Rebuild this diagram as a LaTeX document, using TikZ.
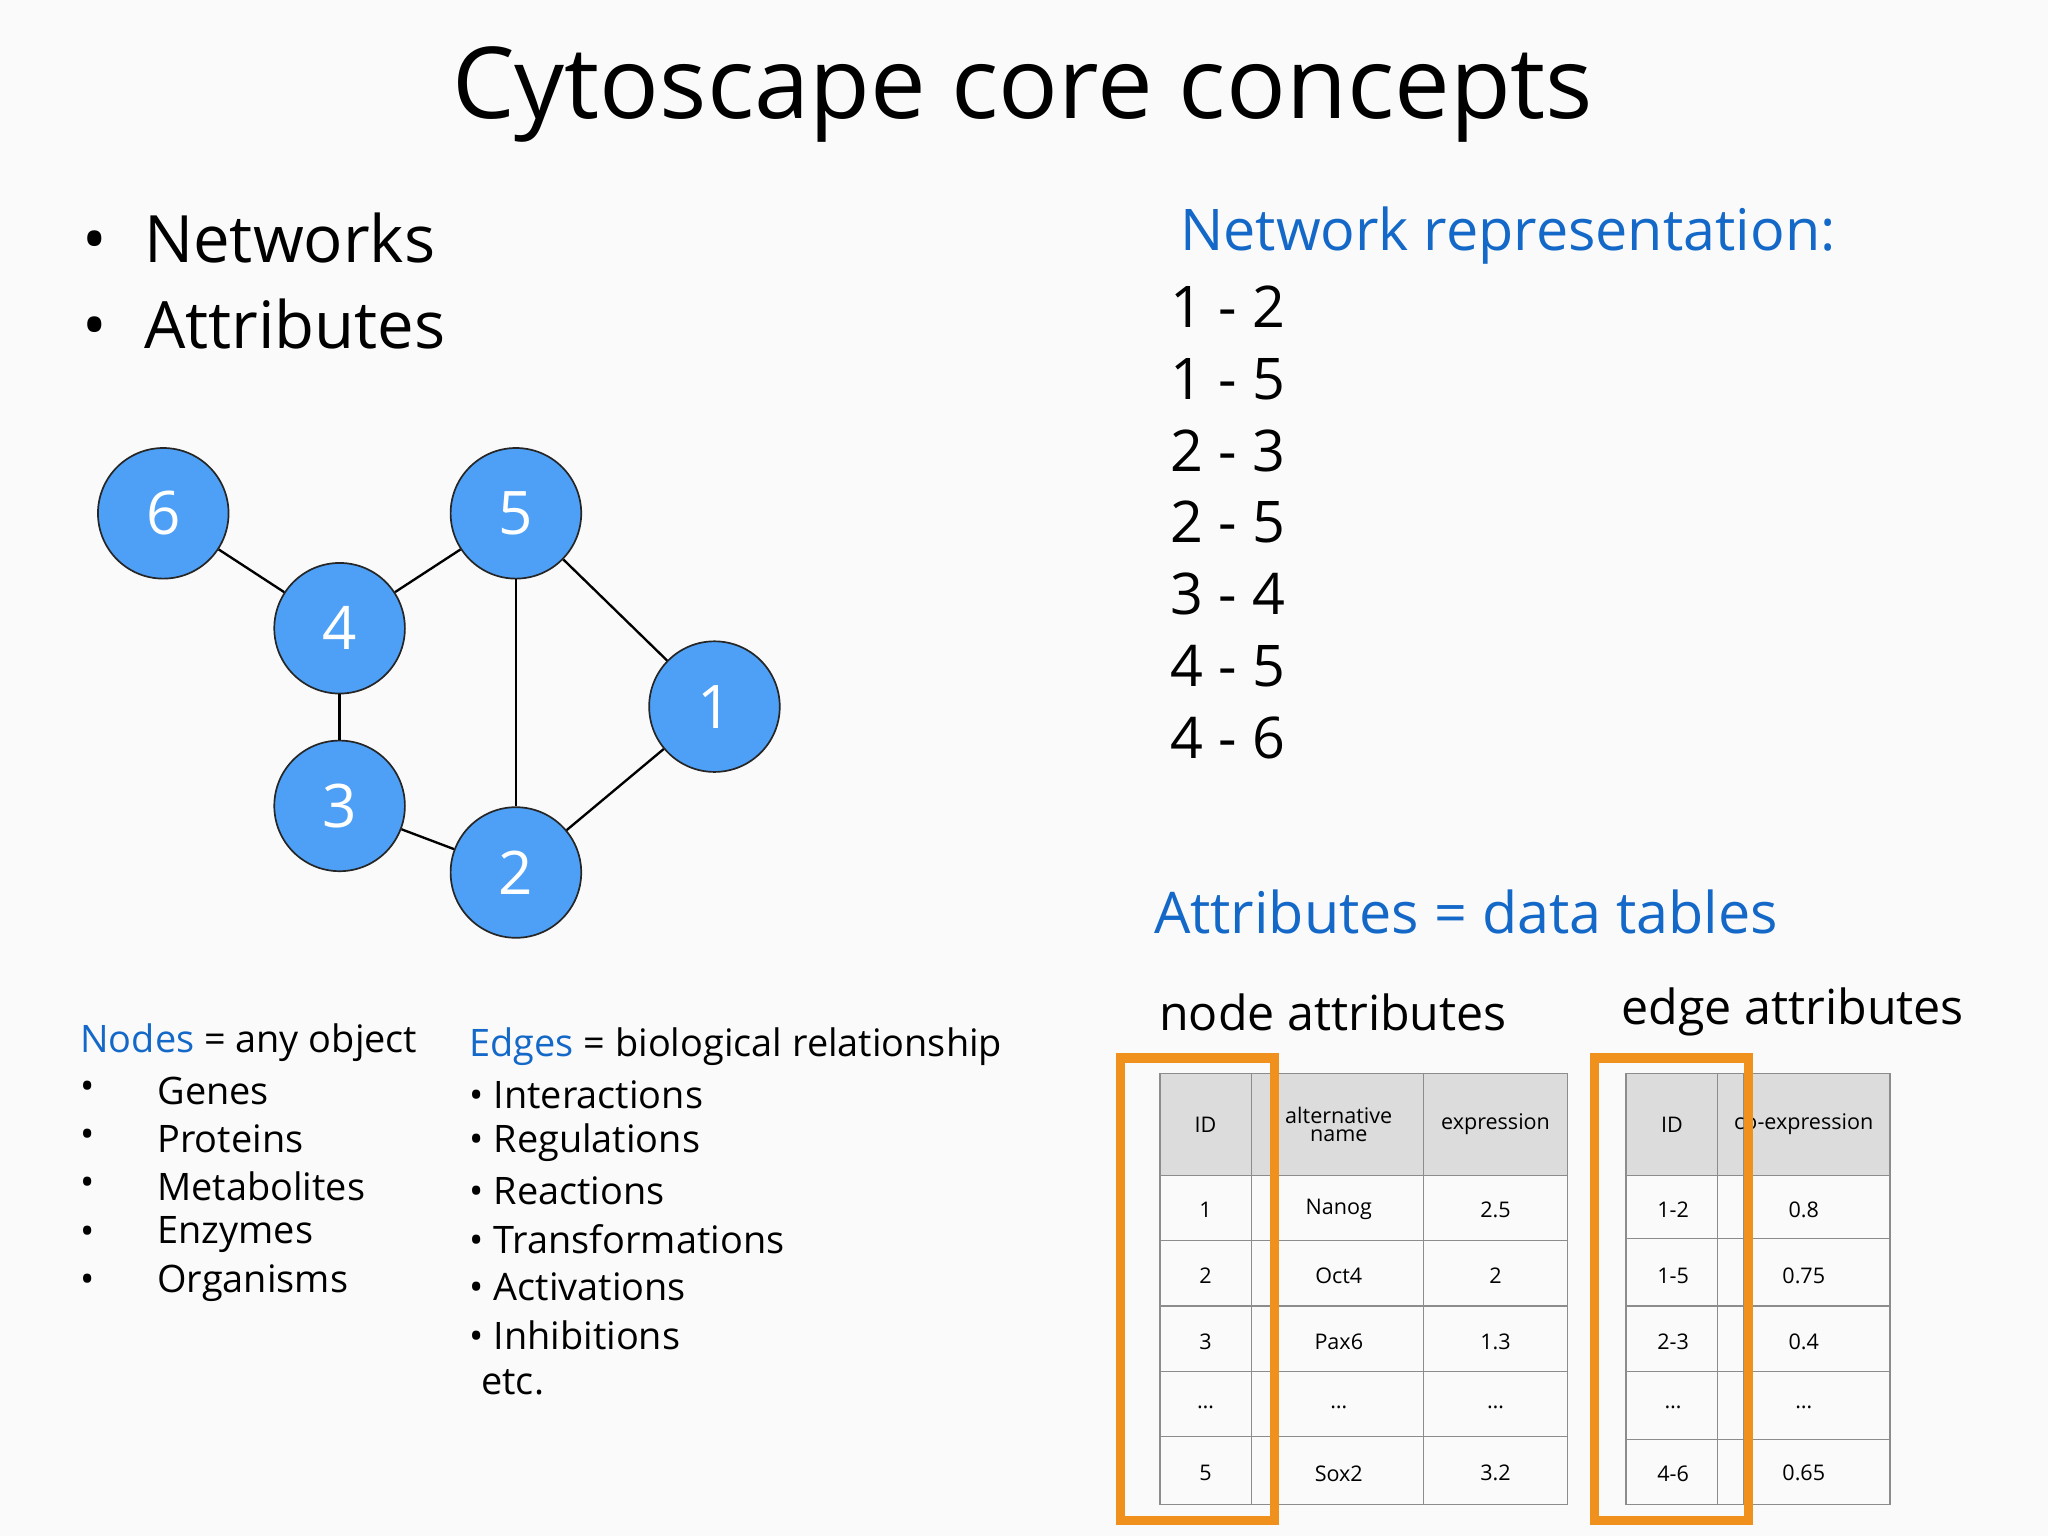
\documentclass[tikz,border=0pt]{standalone}
\usepackage{fontspec}
\setmainfont{Open Sans}
\definecolor{nblue}{RGB}{77,160,245}
\definecolor{tblue}{RGB}{20,105,200}
\definecolor{org}{RGB}{240,145,30}
\definecolor{hdr}{RGB}{220,220,220}
\begin{document}
\begin{tikzpicture}[x=1pt,y=-1pt,
 gnode/.style={circle,draw=black!85,line width=1.3pt,fill=nblue,minimum size=100pt,inner sep=0pt,text=white,font=\fontsize{46}{46}\selectfont},
 edge/.style={line width=1.8pt},
 big/.style={anchor=west,font=\fontsize{44}{44}\selectfont},
 mid/.style={anchor=west,font=\fontsize{29}{29}\selectfont},
 cell/.style={font=\fontsize{16.5}{17}\selectfont,align=center},
 grid/.style={draw=black!45,line width=1pt},
 obox/.style={draw=org,line width=7pt}]
\useasboundingbox (0,0) rectangle (1568,1176);
\fill[white!98!black] (0,0) rectangle (1568,1176);
\node (title) at (783,72) {\fontsize{76}{76}\selectfont Cytoscape core concepts};
\node[big,font=\fontsize{50}{50}\selectfont] (b1) at (60,182) {•\hspace{28pt}Networks};
\node[big,font=\fontsize{50}{50}\selectfont] (b2) at (60,248) {•\hspace{28pt}Attributes};
% graph
\node[gnode] (n6) at (125,393) {6};
\node[gnode] (n5) at (395,393) {5};
\node[gnode] (n4) at (260,481) {4};
\node[gnode] (n1) at (547,541) {1};
\node[gnode] (n3) at (260,617) {3};
\node[gnode] (n2) at (395,668) {2};
\begin{scope}[on background layer/.style={}]
\end{scope}
\draw[edge] (n6)--(n4); \draw[edge] (n4)--(n5); \draw[edge] (n4)--(n3);
\draw[edge] (n5)--(n2); \draw[edge] (n5)--(n1); \draw[edge] (n3)--(n2); \draw[edge] (n2)--(n1);
% network representation
\node[big,text=tblue] (nr) at (900,180) {Network representation:};
\foreach \t [count=\i from 0] in {1 - 2,1 - 5,2 - 3,2 - 5,3 - 4,4 - 5,4 - 6}
  \node[big] (l\i) at (893,235+55*\i) {\t};
\node[big,text=tblue] (adt) at (880,698) {Attributes = data tables};
\node[mid,font=\fontsize{37}{37}\selectfont] (na) at (884,775) {node attributes};
\node[mid,font=\fontsize{37}{37}\selectfont] (ea) at (1238,775) {edge attributes};
% nodes/edges lists
\node[mid] (nh) at (58,798) {\textcolor{tblue}{Nodes} = any object};
\foreach \t [count=\i from 0] in {Genes,Proteins,Metabolites,Enzymes,Organisms}{
  \node[mid] (nb\i) at (58,835+36.8*\i) {•};
  \node[mid] (nt\i) at (117,835+36.8*\i) {\t};}
\node[mid] (eh) at (356,801) {\textcolor{tblue}{Edges} = biological relationship};
\foreach \t [count=\i from 0] in {Interactions,Regulations,Reactions,Transformations,Activations,Inhibitions}
  \node[mid] (et\i) at (356,838+36.8*\i) {• \t};
\node[mid] (etc) at (365,1058) {etc.};
% table 1
\fill[hdr] (888,822) rectangle (1200,900);
\draw[grid] (888,822) rectangle (1200,1152);
\foreach \x in {958,978,1090} \draw[grid] (\x,822)--(\x,1152);
\foreach \y in {900,950,1000,1050,1100} \draw[grid] (888,\y)--(1200,\y);
\node[cell] (h1) at (923,861) {ID};
\node[cell] (h2) at (1025,861) {alternative\\[-3pt]name};
\node[cell] (h3) at (1145,861) {expression};
\foreach \a/\b/\c [count=\i from 0] in {1/Nanog/2.5,2/Oct4/2,3/Pax6/1.3,…/…/…,5/Sox2/3.2}{
  \node[cell] (ta\i) at (923,926+50.5*\i) {\a};
  \node[cell] (tb\i) at (1025,926+50.5*\i) {\b};
  \node[cell] (tc\i) at (1145,926+50.5*\i) {\c};}
% table 2
\fill[hdr] (1245,822) rectangle (1447,900);
\draw[grid] (1245,822) rectangle (1447,1152);
\foreach \x in {1315,1335} \draw[grid] (\x,822)--(\x,1152);
\foreach \y in {900,948,1000,1050,1102} \draw[grid] (1245,\y)--(1447,\y);
\node[cell] (g1) at (1280,861) {ID};
\node[cell] (g2) at (1381,861) {co-expression};
\foreach \a/\b [count=\i from 0] in {1-2/0.8,1-5/0.75,2-3/0.4,…/…,4-6/0.65}{
  \node[cell] (ua\i) at (1281,926+50.5*\i) {\a};
  \node[cell] (ub\i) at (1381,926+50.5*\i) {\b};}
\draw[obox] (858,810) rectangle (976,1164);
\draw[obox] (1221,810) rectangle (1339,1164);
\end{tikzpicture}
\end{document}
